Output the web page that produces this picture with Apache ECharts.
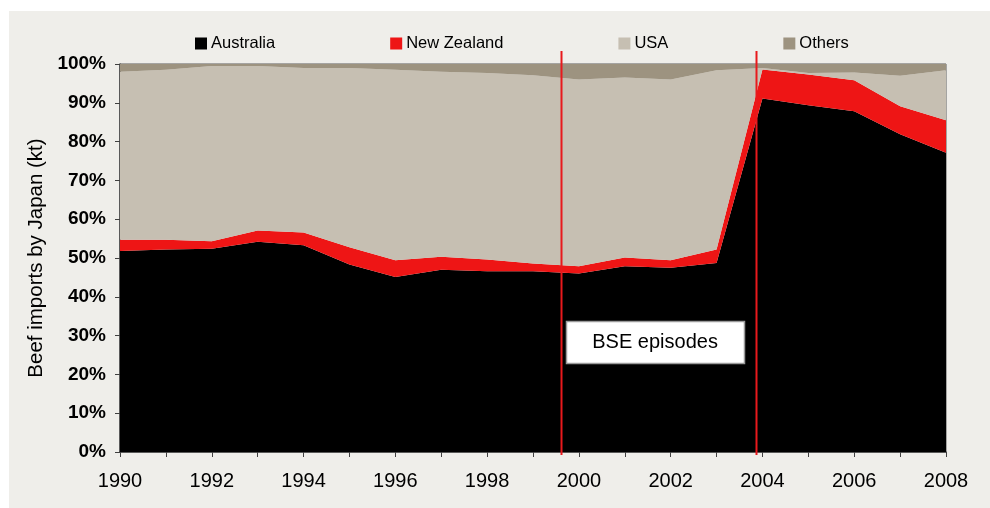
<!DOCTYPE html>
<html>
<head>
<meta charset="utf-8">
<script src="https://cdn.jsdelivr.net/npm/echarts@6/dist/echarts.min.js"></script>
<style>
  html, body { margin: 0; padding: 0; background: #ffffff; }
  #chart { width: 990px; height: 508px; }
</style>
</head>
<body>
<div id="chart"></div>
<script>
// Share of Japanese beef imports by origin (%)
const years = ['1990','1991','1992','1993','1994','1995','1996','1997','1998','1999',
               '2000','2001','2002','2003','2004','2005','2006','2007','2008'];
const australia  = [51.8, 52.2, 52.4, 54.2, 53.3, 48.3, 45.1, 47.0, 46.6, 46.6, 46.0, 47.9, 47.5, 48.7, 91.1, 89.4, 87.8, 81.9, 77.1];
const newZealand = [2.9, 2.5, 1.9, 2.9, 3.3, 4.5, 4.3, 3.3, 3.0, 2.0, 1.9, 2.2, 1.9, 3.5, 7.5, 7.9, 8.0, 7.2, 8.4];
const usa        = [43.3, 43.8, 45.2, 42.4, 42.4, 46.2, 49.1, 47.7, 48.1, 48.5, 48.1, 46.4, 46.6, 46.2, 0.4, 0.4, 2.0, 7.9, 12.9];
const others     = [2.0, 1.5, 0.5, 0.5, 1.0, 1.0, 1.5, 2.0, 2.3, 2.9, 4.0, 3.5, 4.0, 1.6, 1.0, 2.3, 2.2, 3.0, 1.6];
const yTicks = [0, 10, 20, 30, 40, 50, 60, 70, 80, 90, 100];

// BSE episodes (fractional year positions) and the label spot
const bseYears = [1999.6, 2003.87];
const bseLabel = { text: 'BSE episodes', year: 2001.66, value: 28.3 };

const seriesDefs = [
  { name: 'Australia',   data: australia,  color: '#000000' },
  { name: 'New Zealand', data: newZealand, color: '#EE1515' },
  { name: 'USA',         data: usa,        color: '#C6BFB2' },
  { name: 'Others',      data: others,     color: '#9D9380' }
];

const chart = echarts.init(document.getElementById('chart'));
const font = 'Liberation Sans, Arial, sans-serif';

chart.setOption({
  animation: false,
  textStyle: { fontFamily: font },
  legend: {
    left: 190, top: 30,
    itemWidth: 12, itemHeight: 12, itemGap: 115,
    icon: 'rect',
    textStyle: { fontSize: 16.5, color: '#000', fontFamily: font, padding: [0, 0, 0, -1] },
    data: seriesDefs.map(s => s.name)
  },
  grid: {
    left: 120, right: 44, top: 64, bottom: 56,
    show: true, borderColor: '#5a5a5a', borderWidth: 1, backgroundColor: 'transparent',
    containLabel: false
  },
  xAxis: {
    type: 'category',
    data: years,
    boundaryGap: false,
    axisLine: { lineStyle: { color: '#404040', width: 1.5 } },
    axisTick: { show: true, interval: 0, length: 5, lineStyle: { color: '#404040' } },
    axisLabel: { interval: 1, fontSize: 20, color: '#000', margin: 19, fontFamily: font },
    splitLine: { show: false }
  },
  yAxis: {
    type: 'value',
    min: 0, max: 100, interval: 10,
    name: 'Beef imports by Japan (kt)',
    nameLocation: 'middle',
    nameGap: 72,
    nameTextStyle: { fontSize: 20.5, color: '#000', fontFamily: font },
    axisLine: { show: true, lineStyle: { color: '#404040', width: 1.5 } },
    axisTick: { show: true, length: 5, lineStyle: { color: '#404040' } },
    axisLabel: {
      fontSize: 19, fontWeight: 'bold', color: '#000', margin: 14, fontFamily: font,
      formatter: v => (yTicks.includes(v) ? v + '%' : '')
    },
    splitLine: { show: false }
  },
  series: seriesDefs.map(s => ({
    name: s.name,
    type: 'line',
    stack: 'share',
    data: s.data,
    color: s.color,
    symbol: 'none',
    lineStyle: { width: 0 },
    areaStyle: { color: s.color, opacity: 1 },
    emphasis: { disabled: true }
  }))
});

// Background panel, BSE marker lines and the caption box
function drawAnnotations() {
  const pxOfYear = y => {
    const i = Math.floor(y - 1990);
    const f = (y - 1990) - i;
    const a = chart.convertToPixel({ xAxisIndex: 0 }, years[i]);
    const b = chart.convertToPixel({ xAxisIndex: 0 }, years[Math.min(i + 1, years.length - 1)]);
    return a + (b - a) * f;
  };
  const top = chart.convertToPixel({ yAxisIndex: 0 }, 100);
  const bottom = chart.convertToPixel({ yAxisIndex: 0 }, 0);
  const elements = [{
    type: 'rect', z: -10, silent: true,
    shape: { x: 9, y: 11, width: 981, height: 497 },
    style: { fill: '#EFEEEA' }
  }];
  bseYears.forEach(y => {
    const x = Math.round(pxOfYear(y)) + 0.5;
    elements.push({
      type: 'line', z: 100, silent: true,
      shape: { x1: x, y1: top - 13, x2: x, y2: bottom + 3 },
      style: { stroke: '#E8191C', lineWidth: 2 }
    });
  });
  const cx = pxOfYear(bseLabel.year);
  const cy = chart.convertToPixel({ yAxisIndex: 0 }, bseLabel.value);
  const w = 178, h = 42;
  elements.push({
    type: 'rect', z: 101, silent: true,
    shape: { x: Math.round(cx - w / 2) + 0.5, y: Math.round(cy - h / 2) + 0.5, width: w, height: h },
    style: { fill: '#ffffff', stroke: '#9a9a9a', lineWidth: 1.5 }
  });
  elements.push({
    type: 'text', z: 102, silent: true,
    x: cx, y: cy,
    style: {
      text: bseLabel.text, fill: '#000', font: '20px ' + font,
      align: 'center', verticalAlign: 'middle'
    }
  });
  chart.setOption({ graphic: elements });
}
drawAnnotations();
</script>
</body>
</html>
